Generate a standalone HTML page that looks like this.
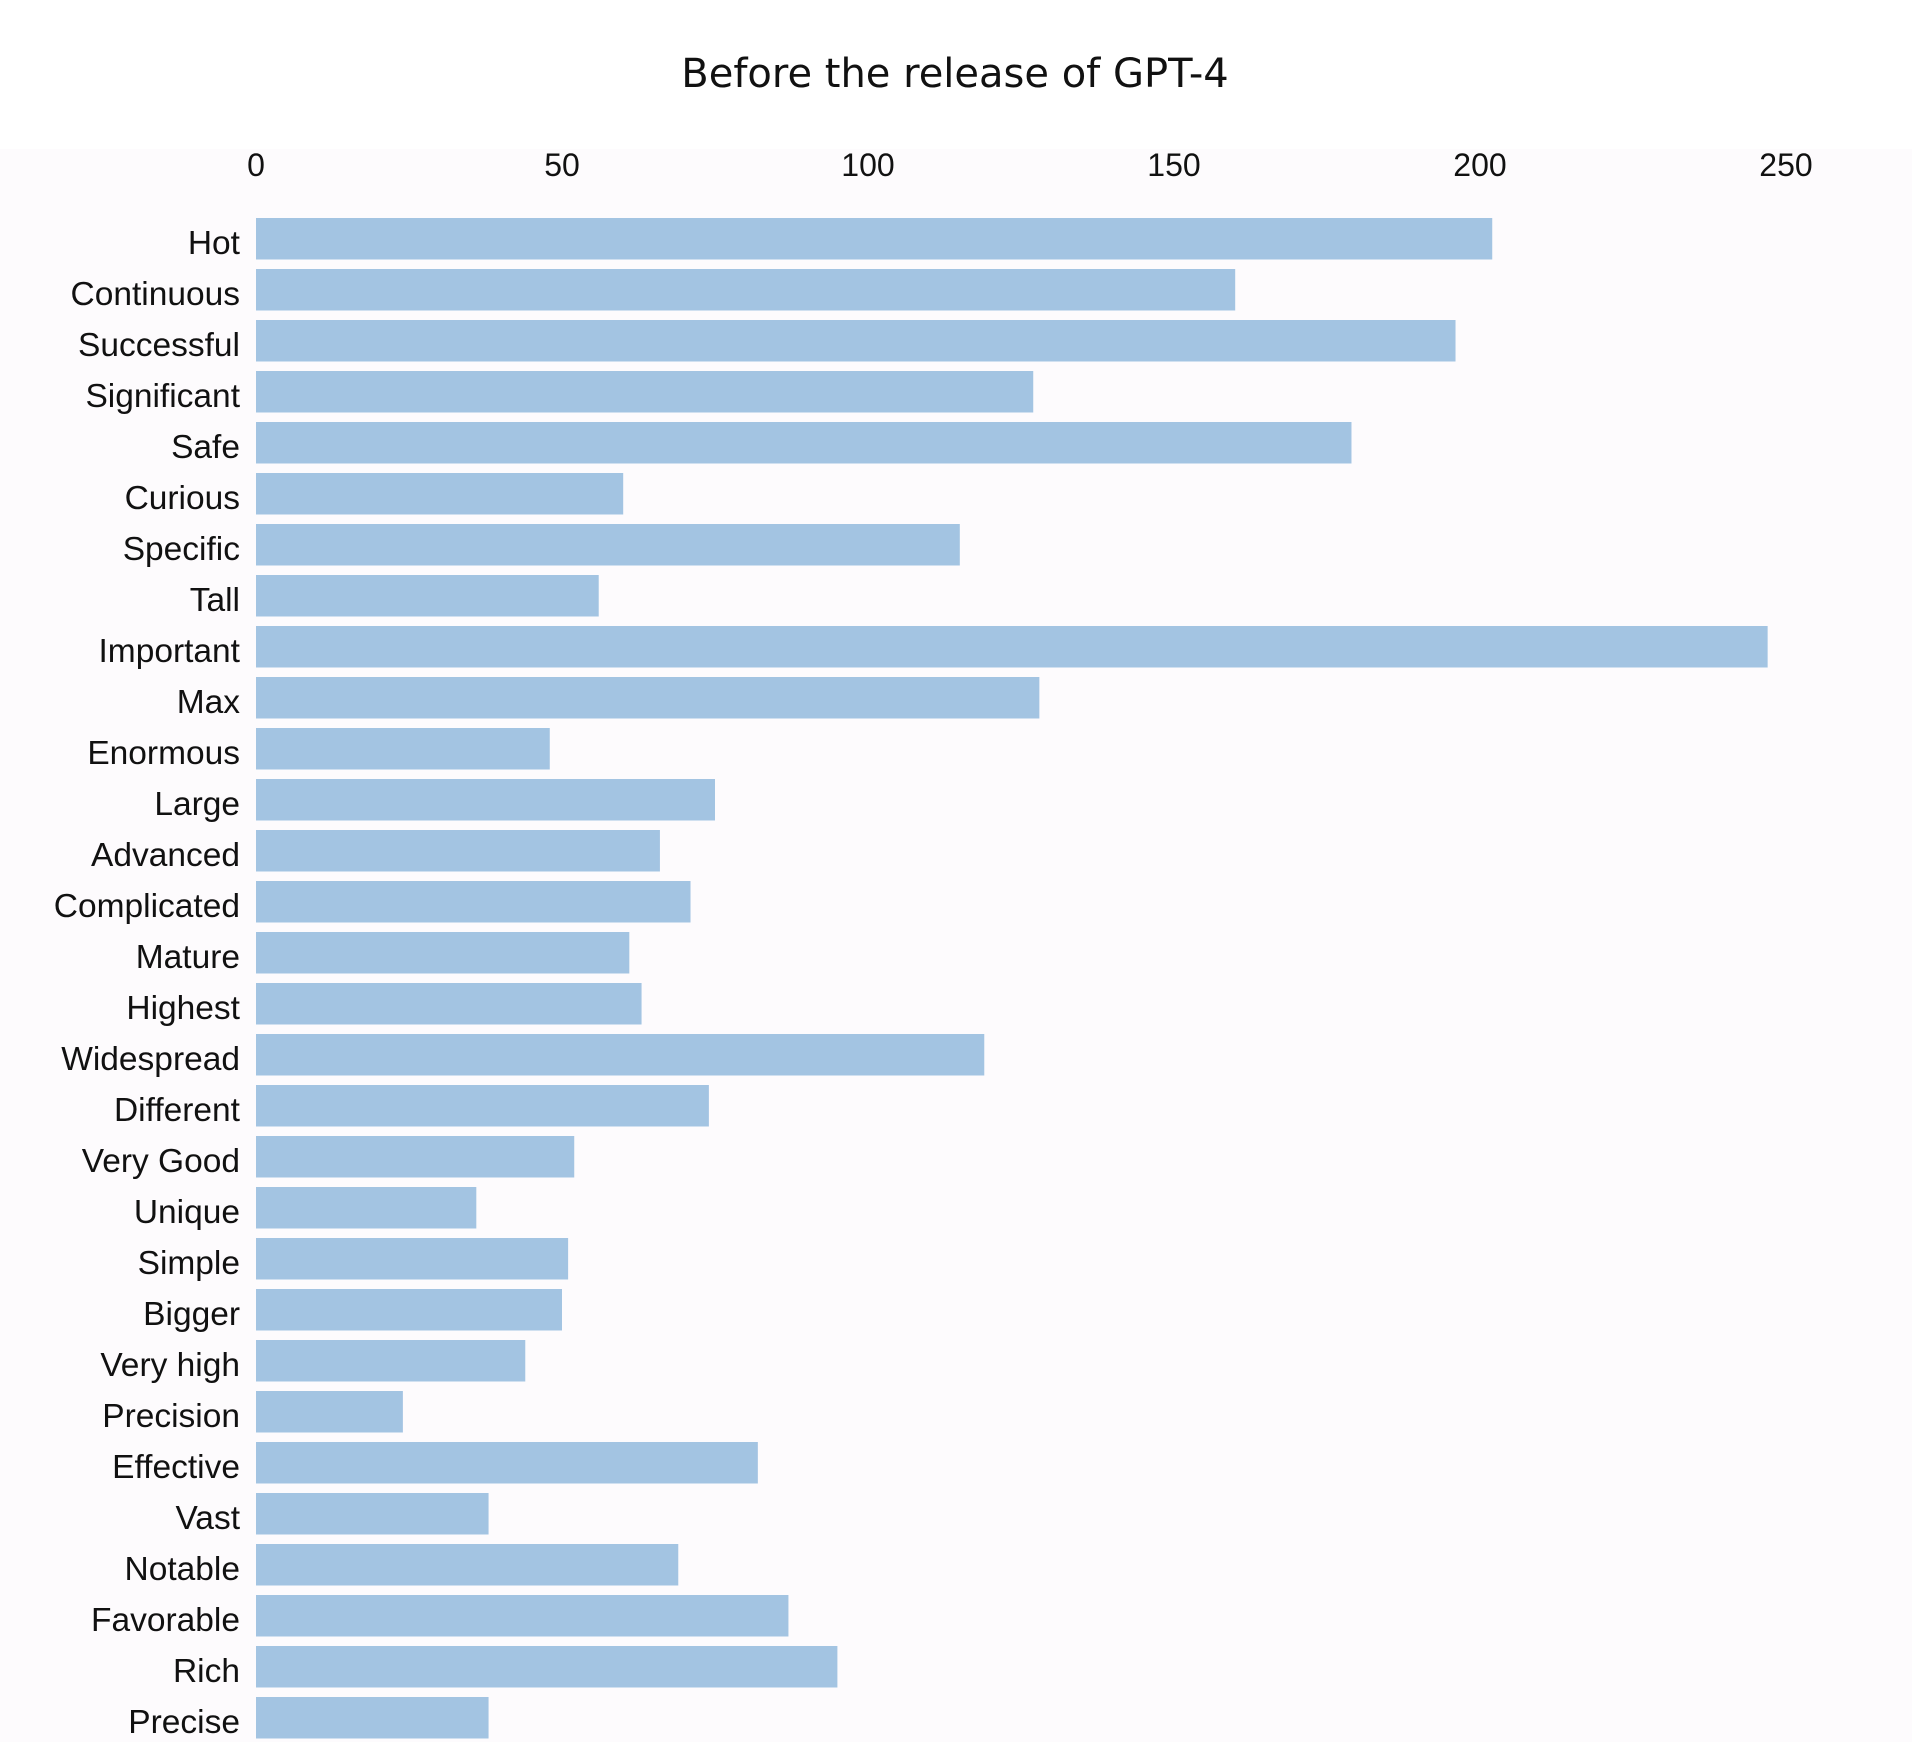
<!DOCTYPE html>
<html><head><meta charset="utf-8"><style>
html,body{margin:0;padding:0;background:#fff;}
svg{display:block;}
</style></head><body>
<svg id="chart" width="1912" height="1742" xmlns="http://www.w3.org/2000/svg">
<rect x="0" y="0" width="1912" height="149" fill="#ffffff"/>
<rect x="0" y="149" width="1912" height="1593" fill="#fdfbfd"/>
<text x="955" y="87" text-anchor="middle" font-family="DejaVu Sans, sans-serif" font-size="40" fill="#111">Before the release of GPT-4</text>
<g id="xaxis"></g>
<g id="bars"></g>
<g id="ylabels"></g>
</svg>
<script>
const categories = ["Hot","Continuous","Successful","Significant","Safe","Curious","Specific","Tall","Important","Max","Enormous","Large","Advanced","Complicated","Mature","Highest","Widespread","Different","Very Good","Unique","Simple","Bigger","Very high","Precision","Effective","Vast","Notable","Favorable","Rich","Precise"];
const values = [202,160,196,127,179,60,115,56,247,128,48,75,66,71,61,63,119,74,52,36,51,50,44,24,82,38,69,87,95,38];
const ticks = [0,50,100,150,200,250];
const tickLabels = ["0","50","100","150","200","250"];

const NS = "http://www.w3.org/2000/svg";
const x0 = 256, pxPerUnit = 6.12;
const y0 = 218, pitch = 51.0, barH = 41.5;
function xScale(v){ return x0 + v * pxPerUnit; }
function yScale(i){ return y0 + i * pitch; }

const xg = document.getElementById('xaxis');
ticks.forEach((t, i) => {
  const el = document.createElementNS(NS, 'text');
  
  
  el.setAttribute('x', xScale(t));
  el.setAttribute('y', 176);
  el.setAttribute('text-anchor', 'middle');
  el.setAttribute('font-family', 'Liberation Sans, sans-serif');
  el.setAttribute('font-size', '32');
  el.setAttribute('fill', '#111');
  el.textContent = tickLabels[i];
  xg.appendChild(el);
});

const bg = document.getElementById('bars');
const lg = document.getElementById('ylabels');
categories.forEach((c, i) => {
  const r = document.createElementNS(NS, 'rect');
  
  
  r.setAttribute('x', xScale(0));
  r.setAttribute('y', yScale(i));
  r.setAttribute('width', xScale(values[i]) - xScale(0));
  r.setAttribute('height', barH);
  r.setAttribute('fill', '#a3c4e2');
  bg.appendChild(r);
  const t = document.createElementNS(NS, 'text');
  
  
  t.setAttribute('x', 240);
  t.setAttribute('y', yScale(i) + barH / 2 + 15);
  t.setAttribute('text-anchor', 'end');
  t.setAttribute('font-family', 'Liberation Sans, sans-serif');
  t.setAttribute('font-size', '33.5');
  t.setAttribute('fill', '#111');
  t.textContent = c;
  lg.appendChild(t);
});
</script>
</body></html>
